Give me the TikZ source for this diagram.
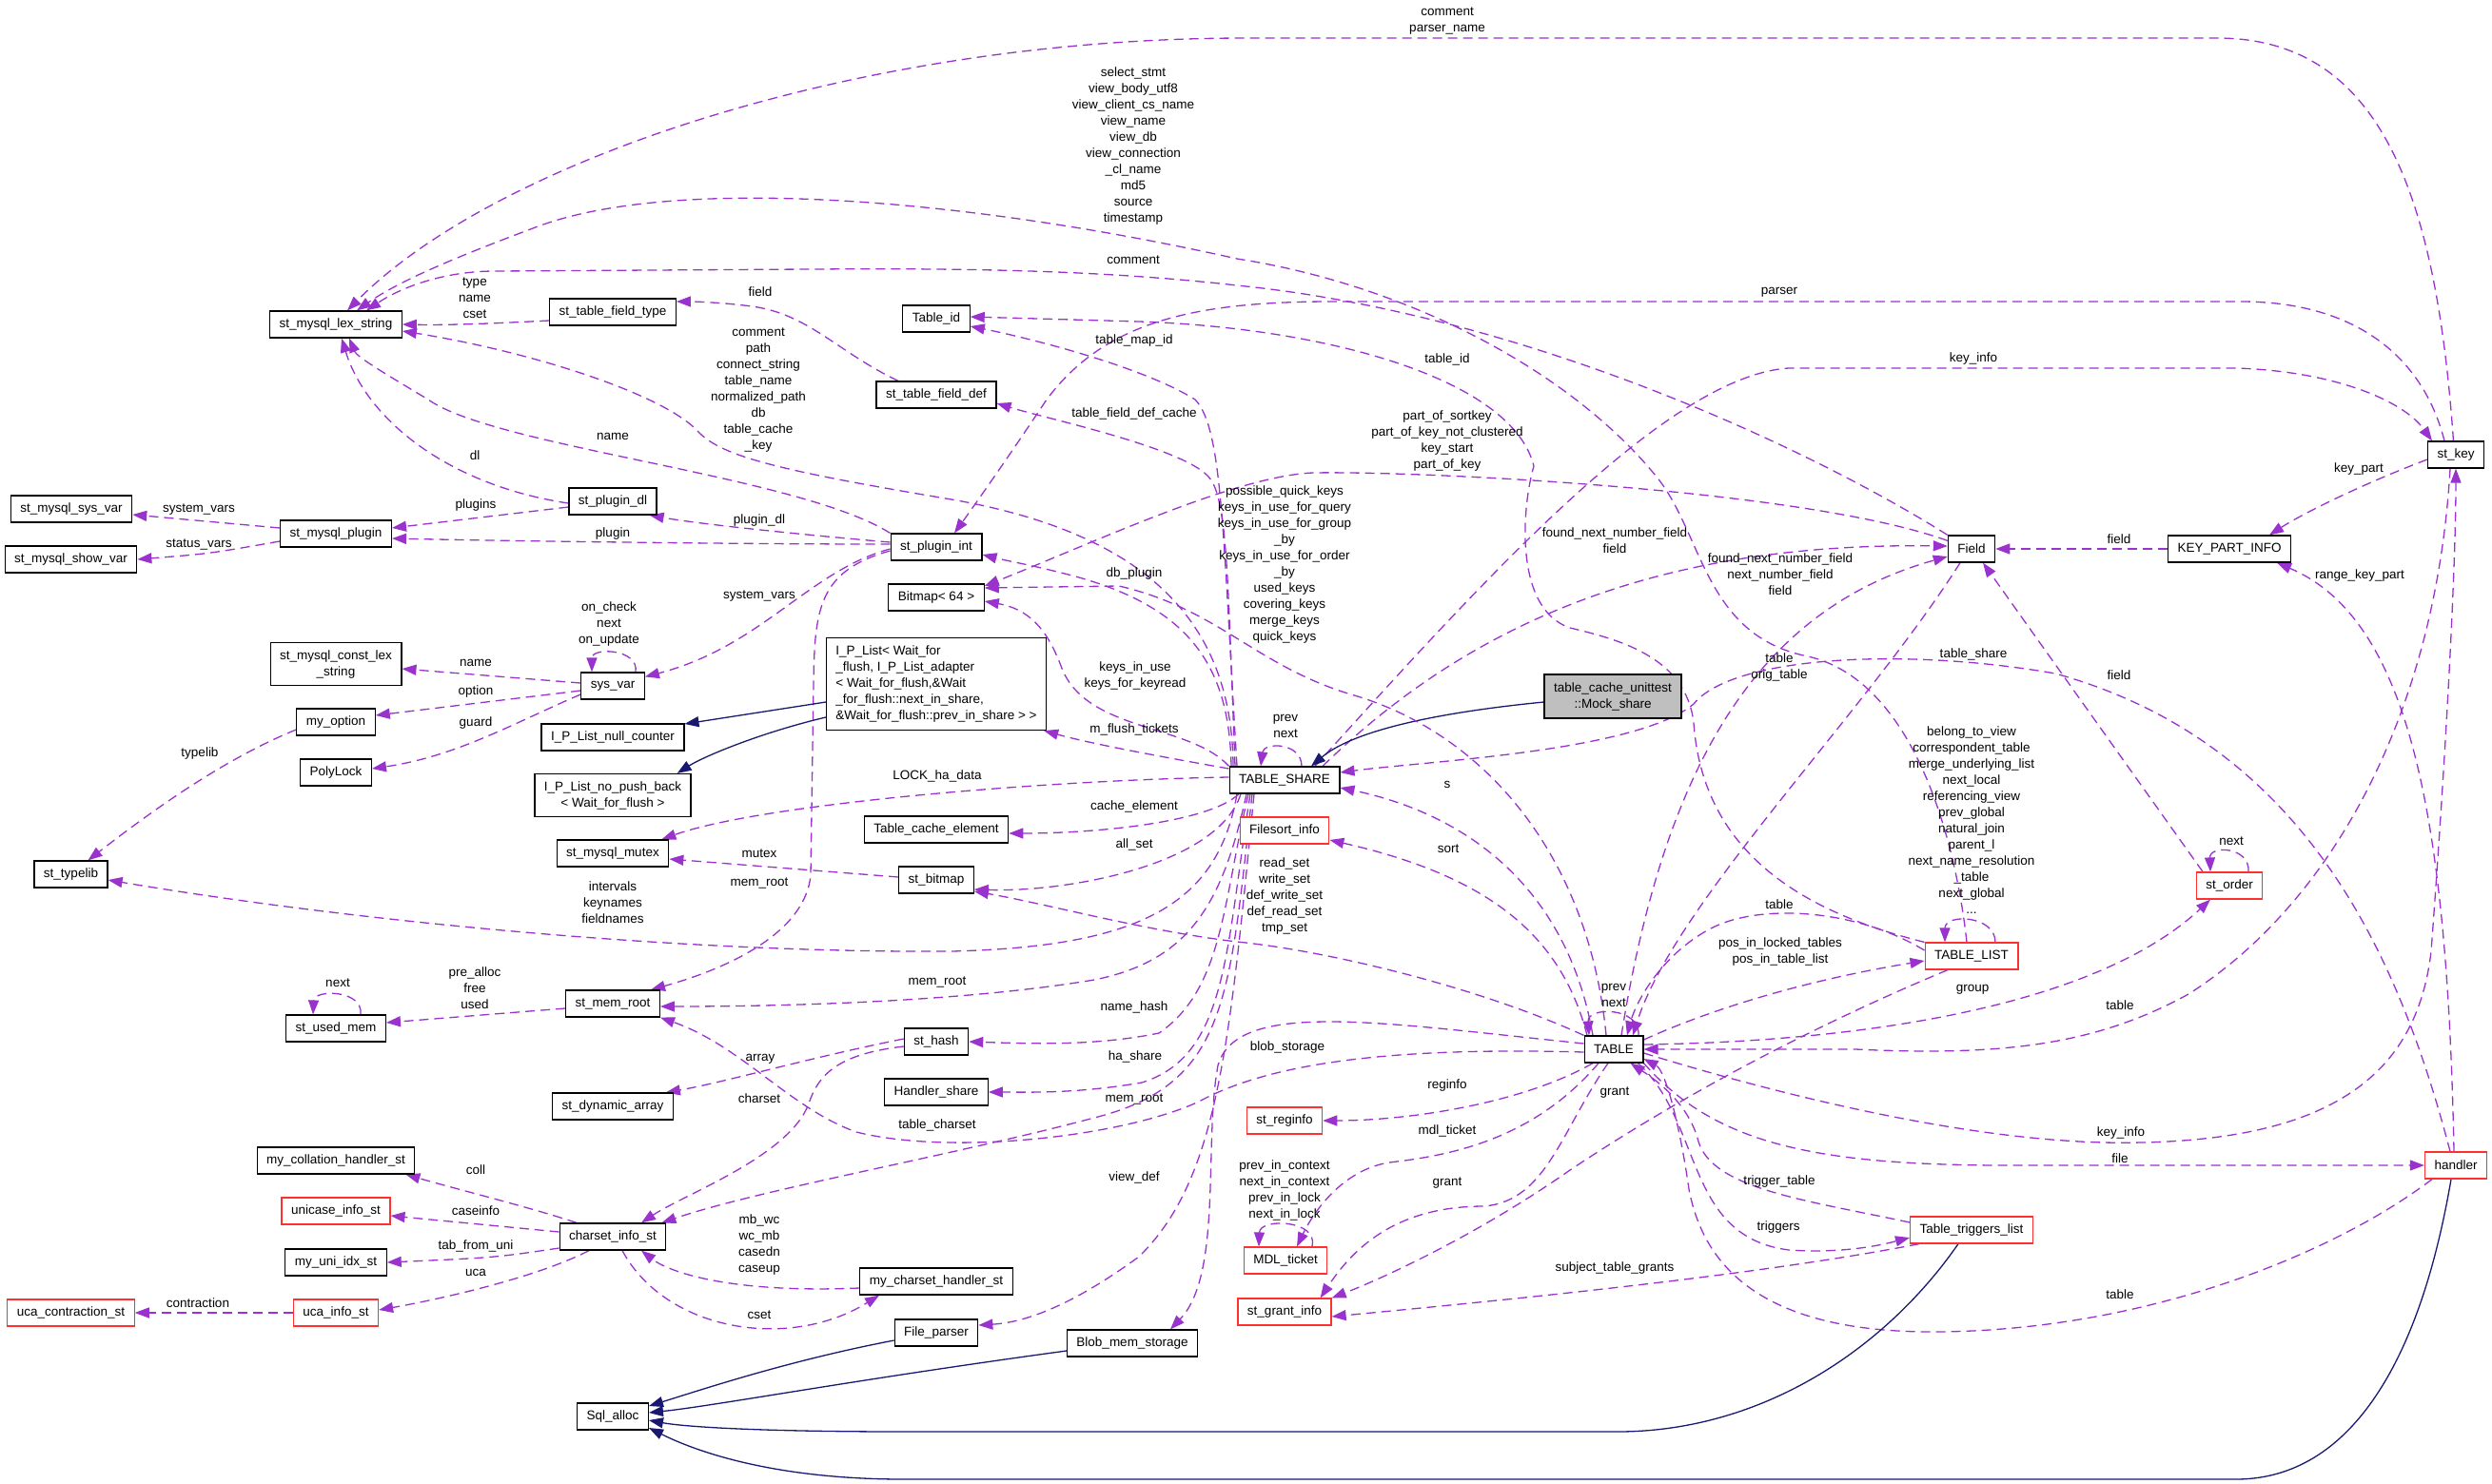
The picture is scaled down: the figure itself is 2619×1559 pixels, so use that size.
\documentclass[tikz,border=0pt]{standalone}
\usepackage{fontspec}
\setmainfont{Liberation Sans}
\usepackage{tikz}
\usetikzlibrary{arrows.meta, positioning}
\usepackage{xcolor}
\definecolor{Orchid}{HTML}{9A32CD}
\definecolor{Midnight}{HTML}{191970}
\definecolor{Alert}{HTML}{FF3030}
\definecolor{Shade}{HTML}{BFBFBF}
\pgfdeclarelayer{background}
\pgfsetlayers{background,main}

\begin{document}
\begin{tikzpicture}[x=1pt, y=-1pt,
  every node/.style={font=\fontsize{13.5}{17}\selectfont},
  cls/.style={draw=black, line width=1.2pt, fill=white, inner xsep=10pt, inner ysep=5pt, minimum height=28pt},
  clsred/.style={cls, draw=Alert},
  usage/.style={draw=Orchid, line width=1.3pt, dash pattern=on 10pt off 6pt, -{Triangle[length=15pt, width=11pt]}},
  inherit/.style={draw=Midnight, line width=1.3pt, -{Triangle[length=15pt, width=11pt]}},
  lbl/.style={align=center, inner sep=0pt}]
  \useasboundingbox (0,0) rectangle (2619,1559);

  % first column
  \node[cls] (sysvarst) at (75,535) {st\_mysql\_sys\_var};
  \node[cls] (showvar) at (74.5,588) {st\_mysql\_show\_var};
  \node[cls] (typelib) at (74.5,919) {st\_typelib};
  \node[clsred] (ucacontr) at (74.5,1380) {uca\_contraction\_st};

  % second column
  \node[cls] (lexstr) at (353,341) {st\_mysql\_lex\_string};
  \node[cls] (mysqlplugin) at (353,561) {st\_mysql\_plugin};
  \node[cls, align=center, minimum height=45pt] (constlex) at (353,698) {st\_mysql\_const\_lex\\\_string};
  \node[cls] (myoption) at (353,759) {my\_option};
  \node[cls] (polylock) at (353,812) {PolyLock};
  \node[cls] (usedmem) at (353,1081) {st\_used\_mem};
  \node[cls] (collation) at (353,1220) {my\_collation\_handler\_st};
  \node[clsred] (unicase) at (353,1273) {unicase\_info\_st};
  \node[cls] (uniidx) at (353,1327) {my\_uni\_idx\_st};
  \node[clsred] (ucainfo) at (353,1380) {uca\_info\_st};

  % third column
  \node[cls] (fieldtype) at (644,328) {st\_table\_field\_type};
  \node[cls] (plugindl) at (644,527) {st\_plugin\_dl};
  \node[cls] (sysvar) at (644,721) {sys\_var};
  \node[cls] (nullcounter) at (644,775) {I\_P\_List\_null\_counter};
  \node[cls, align=center, minimum height=45pt] (nopushback) at (644,836) {I\_P\_List\_no\_push\_back\\< Wait\_for\_flush >};
  \node[cls] (mutex) at (644,897) {st\_mysql\_mutex};
  \node[cls] (memroot) at (644,1055) {st\_mem\_root};
  \node[cls] (dynarray) at (644,1163) {st\_dynamic\_array};
  \node[cls] (charset) at (644,1300) {charset\_info\_st};
  \node[cls] (sqlalloc) at (644,1489) {Sql\_alloc};

  % fourth column
  \node[cls] (tableid) at (984,335) {Table\_id};
  \node[cls] (fielddef) at (984,415) {st\_table\_field\_def};
  \node[cls] (pluginint) at (984,575) {st\_plugin\_int};
  \node[cls] (bitmap64) at (984,628) {Bitmap< 64 >};
  \node[cls, align=left, minimum height=97pt] (iplist) at (984,719) {I\_P\_List< Wait\_for\\\_flush, I\_P\_List\_adapter\\< Wait\_for\_flush,\&Wait\\\_for\_flush::next\_in\_share,\\\&Wait\_for\_flush::prev\_in\_share > >};
  \node[cls] (cacheelem) at (984,872) {Table\_cache\_element};
  \node[cls] (stbitmap) at (984,925) {st\_bitmap};
  \node[cls] (sthash) at (984,1095) {st\_hash};
  \node[cls] (handlershare) at (984,1148) {Handler\_share};
  \node[cls] (cshandler) at (984,1347) {my\_charset\_handler\_st};
  \node[cls] (fileparser) at (984,1401) {File\_parser};
  \node[cls] (blobmem) at (1190,1412) {Blob\_mem\_storage};

  % TABLE_SHARE column
  \node[cls] (share) at (1350,820) {TABLE\_SHARE};
  \node[clsred] (filesort) at (1350,873) {Filesort\_info};
  \node[clsred] (reginfo) at (1350,1178) {st\_reginfo};
  \node[clsred] (mdlticket) at (1351,1325) {MDL\_ticket};
  \node[clsred] (grantinfo) at (1350,1379) {st\_grant\_info};

  % TABLE column
  \node[cls, fill=Shade, align=center, minimum height=46pt] (mockshare) at (1695,732) {table\_cache\_unittest\\::Mock\_share};
  \node[cls] (table) at (1696,1103) {TABLE};

  % right columns
  \node[cls] (field) at (2072,577) {Field};
  \node[clsred] (tablelist) at (2072,1005) {TABLE\_LIST};
  \node[clsred] (triggers) at (2072,1293) {Table\_triggers\_list};
  \node[cls] (keypart) at (2343,577) {KEY\_PART\_INFO};
  \node[clsred] (order) at (2343,931) {st\_order};
  \node[cls] (stkey) at (2581,478) {st\_key};
  \node[clsred] (handler) at (2581,1225) {handler};

  \begin{pgfonlayer}{background}
  \fill[white] (0,0) rectangle (2619,1559);
  % into st_mysql_lex_string
  \draw[usage] (stkey.100) .. controls (2560,200) and (2500,40) .. (2330,40) -- (1310,40) .. controls (900,40) and (520,170) .. ([xshift=12pt]lexstr.north);
  \draw[usage] ([xshift=-5pt]tablelist.north) .. controls (2055,880) and (2010,715) .. (1900,690) .. controls (1790,668) and (1790,560) .. (1740,500) .. controls (1650,390) and (1480,300) .. (1300,272) .. controls (1000,205) and (700,185) .. (560,240) .. controls (480,270) and (420,295) .. ([xshift=22pt]lexstr.north);
  \draw[usage] (field.north west) .. controls (1900,470) and (1600,330) .. (1300,300) .. controls (1150,283) and (1000,282) .. (850,283) -- (520,285) .. controls (470,285) and (425,300) .. ([xshift=32pt]lexstr.north);
  \draw[usage] ([yshift=-9pt]fieldtype.west) .. controls (520,340) and (470,342) .. (lexstr.east);
  \draw[usage] ([xshift=-54pt]share.north) .. controls (1295,650) and (1200,560) .. (1000,525) .. controls (820,495) and (760,480) .. (735,455) .. controls (700,415) and (560,370) .. ([yshift=-7pt]lexstr.east);
  \draw[usage] (pluginint.north west) .. controls (840,500) and (520,470) .. (450,420) .. controls (400,390) and (375,375) .. ([xshift=14pt]lexstr.south);
  \draw[usage] ([yshift=-2pt]plugindl.west) .. controls (470,510) and (385,440) .. ([xshift=6pt]lexstr.south);

  % plugins
  \draw[usage] ([yshift=6pt]mysqlplugin.west) -- ([yshift=-6pt]sysvarst.east);
  \draw[usage] ([yshift=-8pt]mysqlplugin.west) .. controls (220,582) .. (showvar.east);
  \draw[usage] ([yshift=-6pt]plugindl.west) -- ([yshift=6pt]mysqlplugin.east);
  \draw[usage] ([yshift=3pt]pluginint.west) .. controls (750,572) and (500,568) .. ([yshift=-5pt]mysqlplugin.east);
  \draw[usage] ([yshift=5pt]pluginint.west) .. controls (820,560) and (730,550) .. ([xshift=-8pt]plugindl.south east);
  \draw[usage] ([yshift=-2pt]pluginint.west) .. controls (850,600) and (800,680) .. ([yshift=-5pt]sysvar.north east);
  \draw[usage] ([yshift=-4pt]pluginint.west) .. controls (860,600) and (856,640) .. (855,720) -- (852,920) .. controls (845,990) and (740,1025) .. ([xshift=-10pt]memroot.north east);

  % sys_var
  \draw[usage] ([xshift=24pt]sysvar.north) .. controls (672,682) and (622,680) .. ([xshift=-22pt]sysvar.north);
  \draw[usage] ([yshift=3pt]sysvar.west) -- ([yshift=-5pt]constlex.east);
  \draw[usage] ([yshift=-5pt]sysvar.west) -- ([yshift=7pt]myoption.east);
  \draw[usage] ([yshift=-9pt]sysvar.west) .. controls (540,760) and (480,795) .. ([yshift=4pt]polylock.east);
  \draw[usage] ([yshift=-8pt]myoption.west) .. controls (230,800) and (150,860) .. ([xshift=18pt]typelib.north);

  % out of TABLE_SHARE
  \draw[usage] ([xshift=-50pt]share.south) .. controls (1280,950) and (1200,995) .. (1000,1000) .. controls (700,1002) and (350,965) .. ([yshift=-6pt]typelib.east);
  \draw[usage] ([yshift=12pt]share.west) .. controls (1200,792) and (1140,780) .. ([xshift=-3pt]iplist.south east);
  \draw[usage] ([yshift=3pt]share.west) .. controls (1100,820) and (800,845) .. ([xshift=-8pt]mutex.north east);
  \draw[usage] ([xshift=-48pt]share.south) .. controls (1270,865) and (1150,876) .. ([yshift=-4pt]cacheelem.east);
  \draw[usage] ([yshift=3pt]stbitmap.west) -- ([yshift=-6pt]mutex.east);
  \draw[usage] ([xshift=-46pt]share.south) .. controls (1280,910) and (1120,938) .. ([yshift=-10pt]stbitmap.east);
  \draw[usage] ([xshift=18pt]share.north) .. controls (1368,780) and (1328,780) .. ([xshift=-25pt]share.north);
  \draw[usage] ([xshift=-50pt]share.north) .. controls (1285,560) and (1285,450) .. (1256,420) .. controls (1200,385) and (1080,355) .. ([yshift=-8pt]tableid.east);
  \draw[usage] ([xshift=-52pt]share.north) .. controls (1290,600) and (1290,520) .. (1269,500) .. controls (1240,470) and (1100,440) .. ([yshift=-9pt]fielddef.east);
  \draw[usage] ([xshift=-56pt]share.north) .. controls (1292,700) and (1250,640) .. (1134,607) .. controls (1090,595) and (1060,590) .. ([yshift=-8pt]pluginint.east);
  \draw[usage] (share.north west) .. controls (1250,760) and (1140,770) .. (1115,700) .. controls (1100,660) and (1080,640) .. ([yshift=-4pt]bitmap64.east);
  \draw[usage] ([xshift=40pt]share.north) .. controls (1550,650) and (1750,570) .. ([yshift=3pt]field.west);
  \draw[usage] ([xshift=32pt]share.north) .. controls (1550,620) and (1750,395) .. (1880,387) -- (2350,387) .. controls (2450,390) and (2525,420) .. ([xshift=-25pt]stkey.north);
  \draw[usage] ([xshift=-40pt]share.south) .. controls (1285,950) and (1250,1010) .. (1150,1030) .. controls (1000,1055) and (800,1058) .. ([yshift=-3pt]memroot.east);
  \draw[usage] ([xshift=-38pt]share.south) .. controls (1285,950) and (1285,1040) .. (1218,1086) .. controls (1150,1100) and (1080,1097) .. (sthash.east);
  \draw[usage] ([xshift=-36pt]share.south) .. controls (1288,1000) and (1290,1110) .. (1200,1138) .. controls (1130,1150) and (1080,1148) .. (handlershare.east);
  \draw[usage] ([xshift=-34pt]share.south) .. controls (1292,1050) and (1290,1140) .. (1150,1175) .. controls (1000,1215) and (800,1250) .. ([xshift=-5pt]charset.north east);
  \draw[usage] ([xshift=-32pt]share.south) .. controls (1292,1100) and (1280,1240) .. (1197,1321) .. controls (1130,1370) and (1080,1390) .. ([yshift=8pt]fileparser.east);
  \draw[inherit] ([yshift=-6pt]mockshare.west) .. controls (1500,750) and (1420,770) .. ([xshift=28pt]share.north);

  % small structs
  \draw[usage] ([xshift=-40pt]fielddef.north) .. controls (880,370) and (850,330) .. (790,322) .. controls (760,318) and (730,317) .. ([yshift=11pt]fieldtype.east);
  \draw[usage] ([yshift=-5pt]sthash.west) .. controls (880,1108) and (860,1130) .. (850,1160) .. controls (830,1215) and (720,1255) .. ([xshift=30pt]charset.north);
  \draw[usage] ([yshift=3pt]sthash.west) .. controls (850,1112) and (760,1138) .. ([xshift=-8pt]dynarray.north east);
  \draw[usage] ([yshift=-5pt]memroot.west) -- ([yshift=6pt]usedmem.east);
  \draw[usage] ([xshift=26pt]usedmem.north) .. controls (382,1040) and (330,1040) .. ([xshift=-24pt]usedmem.north);
  \draw[usage] ([xshift=-38pt]charset.north) .. controls (560,1270) and (480,1250) .. ([xshift=-10pt]collation.south east);
  \draw[usage] ([yshift=5pt]charset.west) -- ([yshift=-5pt]unicase.east);
  \draw[usage] ([yshift=-12pt]charset.west) .. controls (520,1322) .. (uniidx.east);
  \draw[usage] ([xshift=-25pt]charset.south) .. controls (560,1345) and (450,1368) .. ([yshift=3pt]ucainfo.east);
  \draw[usage] (ucainfo.west) -- (ucacontr.east);
  \draw[usage] ([yshift=-7pt]cshandler.west) .. controls (760,1360) and (700,1335) .. ([xshift=30pt]charset.south);
  \draw[usage] ([xshift=10pt]charset.south) .. controls (700,1400) and (830,1420) .. ([xshift=-60pt]cshandler.south);

  % out of TABLE
  \draw[usage] ([xshift=26pt]table.north) .. controls (1724,1058) and (1668,1058) .. ([xshift=-26pt]table.north);
  \draw[usage] (table.north west) .. controls (1560,1040) and (1400,1000) .. (1300,990) .. controls (1200,978) and (1100,950) .. ([yshift=-12pt]stbitmap.east);
  \draw[usage] ([xshift=-22pt]table.north) .. controls (1650,950) and (1560,860) .. ([yshift=-8pt]share.east);
  \draw[usage] ([xshift=-28pt]table.north) .. controls (1640,980) and (1560,920) .. ([yshift=-10pt]filesort.east);
  \draw[usage] ([xshift=-8pt]table.north) .. controls (1670,900) and (1560,770) .. (1420,730) .. controls (1320,700) and (1280,640) .. (1176,616) -- ([yshift=10pt]bitmap64.east);
  \draw[usage] ([xshift=8pt]table.north) .. controls (1750,800) and (1850,640) .. ([yshift=-8pt]field.west);
  \draw[usage] ([yshift=-3pt]table.west) .. controls (1450,1100) and (1330,1120) .. (1260,1158) .. controls (1180,1195) and (1000,1215) .. (900,1190) .. controls (830,1165) and (780,1100) .. (memroot.south east);
  \draw[usage] ([yshift=6pt]table.west) .. controls (1450,1075) and (1300,1050) .. (1280,1120) .. controls (1265,1200) and (1285,1340) .. ([xshift=40pt]blobmem.north);
  \draw[usage] ([xshift=-22pt]table.south) .. controls (1600,1160) and (1480,1178) .. (reginfo.east);
  \draw[usage] ([xshift=-16pt]table.south) .. controls (1610,1200) and (1520,1215) .. (1460,1222) .. controls (1410,1230) and (1380,1275) .. ([xshift=12pt]mdlticket.north);
  \draw[usage] ([xshift=28pt]mdlticket.north) .. controls (1386,1282) and (1324,1280) .. ([xshift=-28pt]mdlticket.north);
  \draw[usage] ([xshift=-6pt]table.south) .. controls (1640,1190) and (1625,1262) .. (1560,1268) .. controls (1480,1268) and (1430,1300) .. ([xshift=-12pt]grantinfo.north east);
  \draw[usage] ([yshift=10pt]table.east) .. controls (1800,1060) and (1900,1030) .. ([yshift=-5pt]tablelist.west);
  \draw[usage] ([yshift=5pt]table.east) .. controls (1950,1095) and (2200,1060) .. ([xshift=-20pt]order.south);
  \draw[usage] ([yshift=-4pt]table.east) .. controls (1900,1160) and (2100,1205) .. (2250,1201) .. controls (2450,1197) and (2540,1130) .. (2555,1000) .. controls (2570,800) and (2581,600) .. (stkey.south);
  \draw[usage] (table.south east) .. controls (1800,1200) and (1900,1224) .. (2100,1225) -- (handler.west);
  \draw[usage] ([xshift=-6pt]table.south east) .. controls (1790,1180) and (1770,1300) .. (1880,1314) .. controls (1940,1318) and (1980,1308) .. ([yshift=-8pt]triggers.west);

  % TABLE_LIST, Field, keys
  \draw[usage] ([xshift=25pt]tablelist.north) .. controls (2097,962) and (2044,960) .. ([xshift=-28pt]tablelist.north);
  \draw[usage] ([yshift=6pt]tablelist.west) .. controls (1950,955) and (1850,950) .. (1800,975) .. controls (1750,1000) and (1720,1050) .. ([xshift=14pt]table.north);
  \draw[usage] (tablelist.north west) .. controls (1900,960) and (1790,900) .. (1780,760) .. controls (1772,690) and (1700,672) .. (1650,660) .. controls (1590,640) and (1600,530) .. (1612,490) .. controls (1590,400) and (1400,345) .. (1197,338) -- ([yshift=2pt]tableid.east);
  \draw[usage] ([xshift=-25pt]tablelist.south) .. controls (1950,1060) and (1800,1130) .. (1650,1230) .. controls (1550,1300) and (1450,1345) .. (grantinfo.north east);
  \draw[usage] ([yshift=8pt]triggers.west) .. controls (1900,1262) and (1800,1250) .. (1785,1200) .. controls (1775,1160) and (1740,1135) .. ([xshift=-14pt]table.south east);
  \draw[usage] ([xshift=10pt]triggers.south west) .. controls (1850,1340) and (1600,1365) .. ([yshift=-5pt]grantinfo.east);
  \draw[usage] ([xshift=-12pt]field.south) .. controls (1960,750) and (1760,950) .. ([xshift=20pt]table.north);
  \draw[usage] ([yshift=-6pt]field.north west) .. controls (1900,515) and (1500,495) .. (1380,497) .. controls (1300,500) and (1150,570) .. ([yshift=12pt]bitmap64.east);
  \draw[usage] (keypart.west) -- (field.east);
  \draw[usage] ([xshift=-28pt]order.north) -- ([xshift=12pt]field.south);
  \draw[usage] ([xshift=20pt]order.north) .. controls (2365,890) and (2322,888) .. ([xshift=-20pt]order.north);
  \draw[usage] ([yshift=-5pt]stkey.west) .. controls (2480,510) and (2420,540) .. ([xshift=42pt]keypart.north);
  \draw[usage] ([xshift=-12pt]stkey.north) .. controls (2545,370) and (2470,317) .. (2355,317) -- (1400,317) .. controls (1250,317) and (1160,340) .. (1100,420) .. controls (1060,480) and (1025,530) .. ([xshift=19pt]pluginint.north);
  \draw[usage] ([xshift=-6pt]stkey.south) .. controls (2560,750) and (2450,950) .. (2300,1045) .. controls (2200,1100) and (2100,1110) .. (1950,1103) -- (table.east);
  \draw[usage] ([xshift=-6pt]handler.north) .. controls (2520,1000) and (2420,780) .. (2160,708) .. controls (2000,680) and (1820,690) .. (1780,740) .. controls (1720,790) and (1500,800) .. ([yshift=8pt]share.east);
  \draw[usage] ([xshift=-2pt]handler.north) .. controls (2572,850) and (2530,650) .. ([xshift=50pt]keypart.south);
  \draw[usage] ([xshift=-25pt]handler.south) .. controls (2450,1320) and (2250,1400) .. (2030,1400) .. controls (1850,1400) and (1790,1330) .. (1775,1250) .. controls (1765,1180) and (1750,1125) .. ([yshift=-10pt]table.east);

  % base classes
  \draw[inherit] ([yshift=-19pt]iplist.west) -- ([yshift=14pt]nullcounter.east);
  \draw[inherit] ([yshift=-35pt]iplist.west) .. controls (800,770) and (740,795) .. ([xshift=-15pt]nopushback.north east);
  \draw[inherit] ([yshift=-8pt]fileparser.west) .. controls (830,1430) and (740,1460) .. ([yshift=11pt]sqlalloc.east);
  \draw[inherit] ([yshift=-8pt]blobmem.west) .. controls (900,1450) and (750,1478) .. ([yshift=4pt]sqlalloc.east);
  \draw[inherit] ([xshift=-14pt]triggers.south) .. controls (1980,1420) and (1850,1505) .. (1700,1505) -- (950,1505) .. controls (800,1505) and (720,1500) .. ([yshift=-4pt]sqlalloc.east);
  \draw[inherit] ([xshift=-5pt]handler.south) .. controls (2540,1450) and (2460,1555) .. (2350,1555) -- (950,1555) .. controls (800,1555) and (720,1520) .. ([yshift=-12pt]sqlalloc.east);
  \end{pgfonlayer}

  % member labels
  \node[lbl] at (1521,22) {comment\\parser\_name};
  \node[lbl] at (1191,154) {select\_stmt\\view\_body\_utf8\\view\_client\_cs\_name\\view\_name\\view\_db\\view\_connection\\\_cl\_name\\md5\\source\\timestamp};
  \node[lbl] at (1191,273) {comment};
  \node[lbl] at (499,313) {type\\name\\cset};
  \node[lbl] at (797,410) {comment\\path\\connect\_string\\table\_name\\normalized\_path\\db\\table\_cache\\\_key};
  \node[lbl] at (644,459) {name};
  \node[lbl] at (499,479) {dl};
  \node[lbl] at (209,536) {system\_vars};
  \node[lbl] at (209,572) {status\_vars};
  \node[lbl] at (500,531) {plugins};
  \node[lbl] at (644,561) {plugin};
  \node[lbl] at (798,547) {plugin\_dl};
  \node[lbl] at (798,627) {system\_vars};
  \node[lbl] at (798,928) {mem\_root};
  \node[lbl] at (640,656) {on\_check\\next\\on\_update};
  \node[lbl] at (500,697) {name};
  \node[lbl] at (500,727) {option};
  \node[lbl] at (500,760) {guard};
  \node[lbl] at (210,792) {typelib};
  \node[lbl] at (644,949) {intervals\\keynames\\fieldnames};
  \node[lbl] at (1192,767) {m\_flush\_tickets};
  \node[lbl] at (985,816) {LOCK\_ha\_data};
  \node[lbl] at (1192,848) {cache\_element};
  \node[lbl] at (798,897) {mutex};
  \node[lbl] at (1192,888) {all\_set};
  \node[lbl] at (1350,942) {read\_set\\write\_set\\def\_write\_set\\def\_read\_set\\tmp\_set};
  \node[lbl] at (1521,825) {s};
  \node[lbl] at (1351,763) {prev\\next};
  \node[lbl] at (2074,688) {table\_share};
  \node[lbl] at (1870,701) {table\\orig\_table};
  \node[lbl] at (1871,604) {found\_next\_number\_field\\next\_number\_field\\field};
  \node[lbl] at (1697,568) {found\_next\_number\_field\\field};
  \node[lbl] at (2227,567) {field};
  \node[lbl] at (2227,710) {field};
  \node[lbl] at (2479,493) {key\_part};
  \node[lbl] at (2480,605) {range\_key\_part};
  \node[lbl] at (2074,377) {key\_info};
  \node[lbl] at (2229,1191) {key\_info};
  \node[lbl] at (2228,1057) {table};
  \node[lbl] at (2228,1218) {file};
  \node[lbl] at (2228,1361) {table};
  \node[lbl] at (1869,1290) {triggers};
  \node[lbl] at (1870,1242) {trigger\_table};
  \node[lbl] at (1521,1141) {reginfo};
  \node[lbl] at (1521,1189) {mdl\_ticket};
  \node[lbl] at (1350,1251) {prev\_in\_context\\next\_in\_context\\prev\_in\_lock\\next\_in\_lock};
  \node[lbl] at (1697,1149) {grant};
  \node[lbl] at (1521,1244) {grant};
  \node[lbl] at (1697,1333) {subject\_table\_grants};
  \node[lbl] at (1696,1046) {prev\\next};
  \node[lbl] at (1870,951) {table};
  \node[lbl] at (1871,1000) {pos\_in\_locked\_tables\\pos\_in\_table\_list};
  \node[lbl] at (2072,862) {belong\_to\_view\\correspondent\_table\\merge\_underlying\_list\\next\_local\\referencing\_view\\prev\_global\\natural\_join\\parent\_l\\next\_name\_resolution\\\_table\\next\_global\\...};
  \node[lbl] at (2073,1040) {group};
  \node[lbl] at (2345,884) {next};
  \node[lbl] at (1521,378) {table\_id};
  \node[lbl] at (1192,358) {table\_map\_id};
  \node[lbl] at (1192,435) {table\_field\_def\_cache};
  \node[lbl] at (799,307) {field};
  \node[lbl] at (1870,307) {parser};
  \node[lbl] at (1192,603) {db\_plugin};
  \node[lbl] at (1193,710) {keys\_in\_use\\keys\_for\_keyread};
  \node[lbl] at (1350,593) {possible\_quick\_keys\\keys\_in\_use\_for\_query\\keys\_in\_use\_for\_group\\\_by\\keys\_in\_use\_for\_order\\\_by\\used\_keys\\covering\_keys\\merge\_keys\\quick\_keys};
  \node[lbl] at (1521,463) {part\_of\_sortkey\\part\_of\_key\_not\_clustered\\key\_start\\part\_of\_key};
  \node[lbl] at (985,1032) {mem\_root};
  \node[lbl] at (1192,1059) {name\_hash};
  \node[lbl] at (1193,1111) {ha\_share};
  \node[lbl] at (1192,1155) {mem\_root};
  \node[lbl] at (985,1183) {table\_charset};
  \node[lbl] at (798,1155) {charset};
  \node[lbl] at (799,1113) {array};
  \node[lbl] at (1192,1238) {view\_def};
  \node[lbl] at (1353,1101) {blob\_storage};
  \node[lbl] at (1522,892) {sort};
  \node[lbl] at (499,1039) {pre\_alloc\\free\\used};
  \node[lbl] at (355,1033) {next};
  \node[lbl] at (500,1230) {coll};
  \node[lbl] at (500,1273) {caseinfo};
  \node[lbl] at (500,1310) {tab\_from\_uni};
  \node[lbl] at (500,1338) {uca};
  \node[lbl] at (208,1370) {contraction};
  \node[lbl] at (798,1308) {mb\_wc\\wc\_mb\\casedn\\caseup};
  \node[lbl] at (798,1382) {cset};
\end{tikzpicture}
\end{document}
